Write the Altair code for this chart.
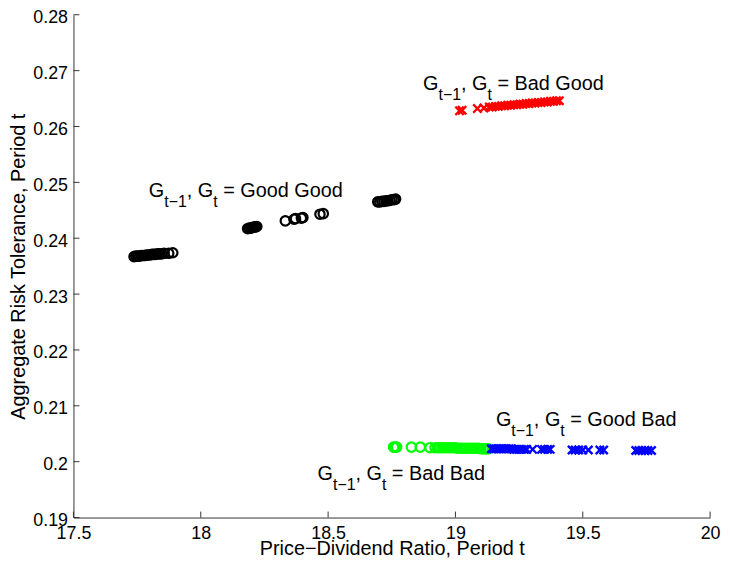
import altair as alt
import pandas as pd

# ---------------- data ----------------
# G(t-1), G(t) = Good Good  (black circles)
gg_x = [17.738, 17.745, 17.752, 17.759, 17.766, 17.773, 17.780, 17.787, 17.794, 17.801,
        17.808, 17.815, 17.822, 17.830, 17.838, 17.846, 17.856, 17.874, 17.890,
        18.184, 18.190, 18.196, 18.202, 18.208, 18.214, 18.220,
        18.332, 18.366, 18.372, 18.395, 18.401, 18.468, 18.481,
        18.695, 18.703, 18.711, 18.719, 18.727, 18.735, 18.743, 18.751, 18.759, 18.765]
gg_y = [0.2367, 0.2368, 0.2368, 0.2368, 0.2369, 0.2369, 0.2369, 0.2370, 0.2370, 0.2370,
        0.2371, 0.2371, 0.2371, 0.2372, 0.2372, 0.2372, 0.2373, 0.2373, 0.2374,
        0.2417, 0.2418, 0.2418, 0.2419, 0.2420, 0.2420, 0.2421,
        0.2431, 0.2434, 0.2435, 0.2436, 0.2437, 0.2443, 0.2444,
        0.2465, 0.2465, 0.2466, 0.2466, 0.2467, 0.2467, 0.2468, 0.2469, 0.2469, 0.2470]

# G(t-1), G(t) = Bad Good  (red crosses)
bg_x = [19.016, 19.026, 19.086, 19.112, 19.133, 19.145, 19.157, 19.169, 19.181, 19.193,
        19.205, 19.217, 19.229, 19.241, 19.253, 19.265, 19.277, 19.289, 19.301, 19.313,
        19.325, 19.337, 19.349, 19.361, 19.373, 19.385, 19.397, 19.408]
bg_y = [0.2628, 0.2629, 0.2632, 0.2633, 0.2635, 0.2635, 0.2636, 0.2636, 0.2637, 0.2637,
        0.2638, 0.2638, 0.2639, 0.2639, 0.2640, 0.2640, 0.2641, 0.2641, 0.2642, 0.2642,
        0.2643, 0.2643, 0.2644, 0.2644, 0.2645, 0.2645, 0.2646, 0.2646]

# G(t-1), G(t) = Bad Bad  (green circles)
bb_x = [18.757, 18.763, 18.769, 18.827, 18.862, 18.900, 18.920, 18.930, 18.940, 18.950,
        18.960, 18.970, 18.980, 18.990, 19.000, 19.010, 19.020, 19.030, 19.040, 19.050,
        19.060, 19.070, 19.080, 19.090, 19.100, 19.110, 19.120, 19.130]
bb_y = [0.2026, 0.2026, 0.2026, 0.2026, 0.2026, 0.2025, 0.2025, 0.2025, 0.2025, 0.2025,
        0.2025, 0.2025, 0.2025, 0.2025, 0.2025, 0.2024, 0.2024, 0.2024, 0.2024, 0.2024,
        0.2024, 0.2024, 0.2024, 0.2024, 0.2023, 0.2023, 0.2023, 0.2023]

# G(t-1), G(t) = Good Bad  (blue crosses)
gb_x = [19.141, 19.150, 19.160, 19.170, 19.180, 19.190, 19.200, 19.210, 19.220, 19.230,
        19.240, 19.250, 19.260, 19.270, 19.280, 19.303, 19.338, 19.350, 19.362, 19.372,
        19.458, 19.470, 19.484, 19.500, 19.522, 19.567, 19.582,
        19.708, 19.720, 19.732, 19.744, 19.756, 19.770]
gb_y = [0.2023, 0.2023, 0.2023, 0.2023, 0.2023, 0.2023, 0.2023, 0.2023, 0.2023, 0.2022,
        0.2022, 0.2022, 0.2022, 0.2022, 0.2022, 0.2022, 0.2022, 0.2022, 0.2022, 0.2022,
        0.2021, 0.2021, 0.2021, 0.2021, 0.2021, 0.2021, 0.2021,
        0.2020, 0.2020, 0.2020, 0.2020, 0.2020, 0.2020]

x_ticks = [17.5, 18.0, 18.5, 19.0, 19.5, 20.0]
y_ticks = [0.19, 0.20, 0.21, 0.22, 0.23, 0.24, 0.25, 0.26, 0.27, 0.28]

ann_rest = ["= Good Good", "= Bad Good", "= Good Bad", "= Bad Bad"]
ann_x = [17.796, 18.873, 19.159, 18.4585]
ann_y = [0.2473, 0.2666, 0.20644, 0.19664]

# ---------------- styling ----------------
FONT = "Liberation Sans"
F = 20          # main font size
FL = 18         # tick label font size
S = 16          # subscript font size
SUB_DY = 10
W_PLOT = 642
H_PLOT = 507
AX = "#333333"

ADV = {"G": 0.778, "t": 0.278, "\u2212": 0.584, "1": 0.556, ",": 0.278, " ": 0.278}


def text_width(s, size):
    return sum(ADV[c] for c in s) * size


X = alt.X("x:Q", scale=alt.Scale(domain=[17.5, 20], nice=False, zero=False),
          axis=alt.Axis(values=x_ticks, format="~g", title="Price\u2212Dividend Ratio, Period t",
                        ticks=False, grid=False, domainColor=AX, domainWidth=1,
                        labelFont=FONT, labelFontSize=FL, labelColor="#000", labelPadding=7,
                        labelFlush=False, labelOverlap=False,
                        titleFont=FONT, titleFontSize=F, titleFontWeight="normal",
                        titleColor="#000", titleBaseline="alphabetic", titleY=37))
Y = alt.Y("y:Q", scale=alt.Scale(domain=[0.19, 0.28], nice=False, zero=False),
          axis=alt.Axis(values=y_ticks, format="~g", title="Aggregate Risk Tolerance, Period t",
                        ticks=False, grid=False, domainColor=AX, domainWidth=1,
                        labelFont=FONT, labelFontSize=FL, labelColor="#000", labelPadding=6,
                        labelFlush=False, labelOverlap=False, labelOffset=3,
                        titleFont=FONT, titleFontSize=F, titleFontWeight="normal",
                        titleColor="#000", titleBaseline="alphabetic", titleX=-49))

XSHAPE = "M-1,-1L1,1M1,-1L-1,1"


def scatter(xs, ys, color, shape, size, sw):
    df = pd.DataFrame({"x": xs, "y": ys})
    return alt.Chart(df).mark_point(shape=shape, filled=False, color=color, size=size,
                                    strokeWidth=sw, opacity=1).encode(x=X, y=Y)


layers = [
    scatter(gg_x, gg_y, "#000000", "circle", 90, 2.2),
    scatter(bg_x, bg_y, "#ff0000", XSHAPE, 70, 2.4),
    scatter(bb_x, bb_y, "#00ff00", "circle", 90, 2.2),
    scatter(gb_x, gb_y, "#0000ff", XSHAPE, 70, 2.4),
]

# inward tick marks
xt = pd.DataFrame({"x": x_ticks})
yt = pd.DataFrame({"y": y_ticks})
layers.append(alt.Chart(xt).mark_rule(color=AX, strokeWidth=1).encode(
    x=X, y=alt.value(H_PLOT), y2=alt.value(H_PLOT - 6)))
layers.append(alt.Chart(yt).mark_rule(color=AX, strokeWidth=1).encode(
    y=Y, x=alt.value(0), x2=alt.value(6)))

# annotations with subscripts
ann = pd.DataFrame({"x": ann_x, "y": ann_y, "rest": ann_rest})
pieces = [("G", F, 0), ("t\u22121", S, SUB_DY), (", G", F, 0), ("t", S, SUB_DY)]
off = 0.0
for txt, size, dy in pieces:
    layers.append(alt.Chart(ann).mark_text(align="left", baseline="alphabetic", font=FONT,
                                           fontSize=size, dx=off, dy=dy, color="#000").encode(
        x=X, y=Y, text=alt.value(txt)))
    off += text_width(txt, size)
off += text_width(" ", F)
layers.append(alt.Chart(ann).mark_text(align="left", baseline="alphabetic", font=FONT,
                                       fontSize=F, dx=off, color="#000").encode(
    x=X, y=Y, text="rest:N"))

chart = alt.layer(*layers).properties(
    width=W_PLOT, height=H_PLOT,
    padding={"left": 66, "top": 4.5, "right": 12, "bottom": 40.5},
    autosize=alt.AutoSizeParams(type="none"),
    background="white",
).configure_view(stroke=None)

chart.save("out.html", embed_options={"renderer": "svg", "actions": False})
